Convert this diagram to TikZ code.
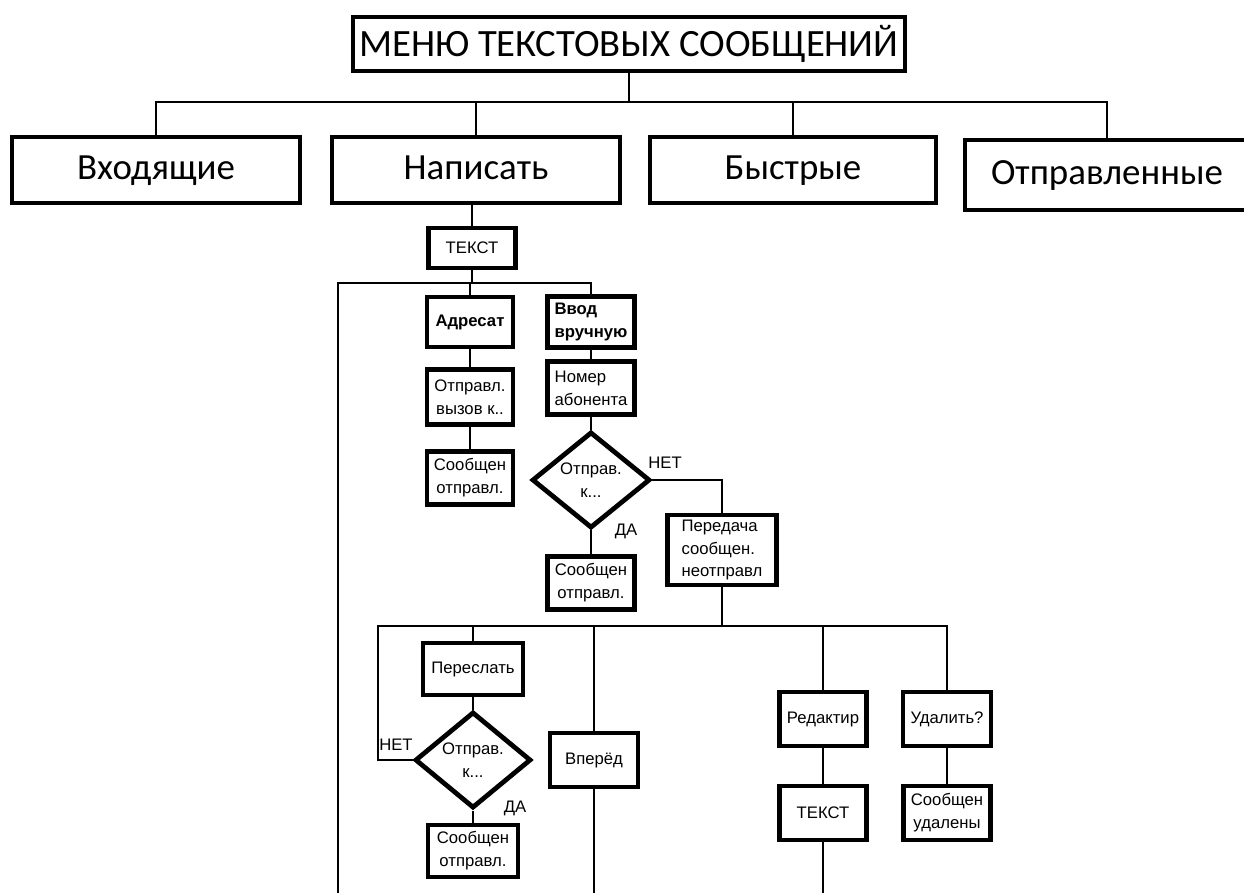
\documentclass[tikz,border=0pt]{standalone}
\usepackage{fontspec}
\setmainfont{Liberation Sans}
\newfontfamily\calfont{Carlito}
\usepackage{tikz}
\usetikzlibrary{shapes.geometric,positioning}

\begin{document}
\begin{tikzpicture}[x=0.02cm,y=-0.02cm,
  sz/.style 2 args={minimum width=#1*0.02cm,minimum height=#2*0.02cm},
  box/.style={draw,line width=2.7pt,fill=white,inner sep=1pt,align=center,
              font=\fontsize{9.5}{13}\selectfont},
  bigbox/.style={box,text height=14pt,text depth=3pt,
                 font=\calfont\fontsize{21}{25}\selectfont},
  dec/.style={box,shape=diamond,inner sep=0pt},
  lab/.style={inner sep=0pt,font=\fontsize{9.5}{12}\selectfont},
  wire/.style={line width=0.9pt}]
\useasboundingbox (0,0) rectangle (1244,893);
\node[box,sz={552}{54},font=\calfont\fontsize{22}{26}\selectfont] (menu) at (629,44) {МЕНЮ ТЕКСТОВЫХ СООБЩЕНИЙ};
\node[bigbox,sz={288}{66}] (inbox) at (156,170) {Входящие};
\node[bigbox,sz={288}{66}] (write) at (476,170) {Написать};
\node[bigbox,sz={286}{66}] (quick) at (793,170) {Быстрые};
\node[bigbox,sz={284}{70}] (sent) at (1107,175) {Отправленные};
\node[box,sz={87}{40}] (text1) at (472,248) {ТЕКСТ};
\node[box,sz={86}{50},font=\bfseries\fontsize{9.5}{13}\selectfont] (addr) at (470,322) {Адресат};
\node[box,sz={86}{55}] (call) at (470,397) {Отправл.\\вызов к..};
\node[box,sz={86}{53}] (done1) at (470,478) {Сообщен\\отправл.};
\node[box,sz={87}{51},align=left,font=\bfseries\fontsize{9.5}{13}\selectfont] (manual) at (591,322) {Ввод\\вручную};
\node[box,sz={87}{53},align=left] (number) at (591,388) {Номер\\абонента};
\node[dec,sz={118}{93}] (ask1) at (591,480) {Отправ.\\к...};
\node[box,sz={87}{53}] (done2) at (591,583) {Сообщен\\отправл.};
\node[box,sz={109}{70},align=left] (fail) at (722,550) {Передача\\сообщен.\\неотправл};
\node[box,sz={100}{52}] (resend) at (473,669) {Переслать};
\node[dec,sz={116}{94}] (ask2) at (473,760) {Отправ.\\к...};
\node[box,sz={90}{52}] (done3) at (473,851) {Сообщен\\отправл.};
\node[box,sz={88}{54}] (ahead) at (594,760) {Вперёд};
\node[box,sz={87}{54}] (edit) at (823,719) {Редактир};
\node[box,sz={87}{54}] (text2) at (823,813) {ТЕКСТ};
\node[box,sz={88}{54}] (erase) at (947,719) {Удалить?};
\node[box,sz={87}{54}] (gone) at (947,813) {Сообщен\\удалены};
\node[lab] (no1) at (665,463) {НЕТ};
\node[lab] (yes1) at (626,531) {ДА};
\node[lab] (no2) at (396,745) {НЕТ};
\node[lab] (yes2) at (515,808) {ДА};
\coordinate (bus1) at (635,102);
\coordinate (bus2) at (338,283);
\coordinate (bus3) at (378,626);
\coordinate (end1) at (338,893);
\coordinate (end2) at (594,893);
\coordinate (end3) at (823,893);
\draw[wire] (menu.south) -- (menu.south |- bus1);
\draw[wire] (inbox.north) -- (inbox.north |- bus1) -- (sent.north |- bus1) -- (sent.north);
\draw[wire] (write.north) -- (write.north |- bus1);
\draw[wire] (quick.north) -- (quick.north |- bus1);
\draw[wire] (text1.north |- write.south) -- (text1.north);
\draw[wire] (text1.south) -- (text1.south |- bus2);
\draw[wire] (end1) -- (bus2) -- (manual.north |- bus2) -- (manual.north);
\draw[wire] (addr.north) -- (addr.north |- bus2);
\draw[wire] (addr) -- (call);
\draw[wire] (call) -- (done1);
\draw[wire] (manual) -- (number);
\draw[wire] (number.south) -- (ask1.north);
\draw[wire] (ask1.east) -| (fail.north);
\draw[wire] (ask1.south) -- (done2.north);
\draw[wire] (fail.south) -- (fail.south |- bus3);
\draw[wire] (ask2.west) -| (bus3) -- (erase.north |- bus3) -- (erase.north);
\draw[wire] (resend.north) -- (resend.north |- bus3);
\draw[wire] (ahead.north) -- (ahead.north |- bus3);
\draw[wire] (edit.north) -- (edit.north |- bus3);
\draw[wire] (resend.south) -- (ask2.north);
\draw[wire] (ask2.south) -- (done3.north);
\draw[wire] (ahead.south) -- (end2);
\draw[wire] (edit) -- (text2);
\draw[wire] (text2.south) -- (end3);
\draw[wire] (erase) -- (gone);
\end{tikzpicture}
\end{document}
